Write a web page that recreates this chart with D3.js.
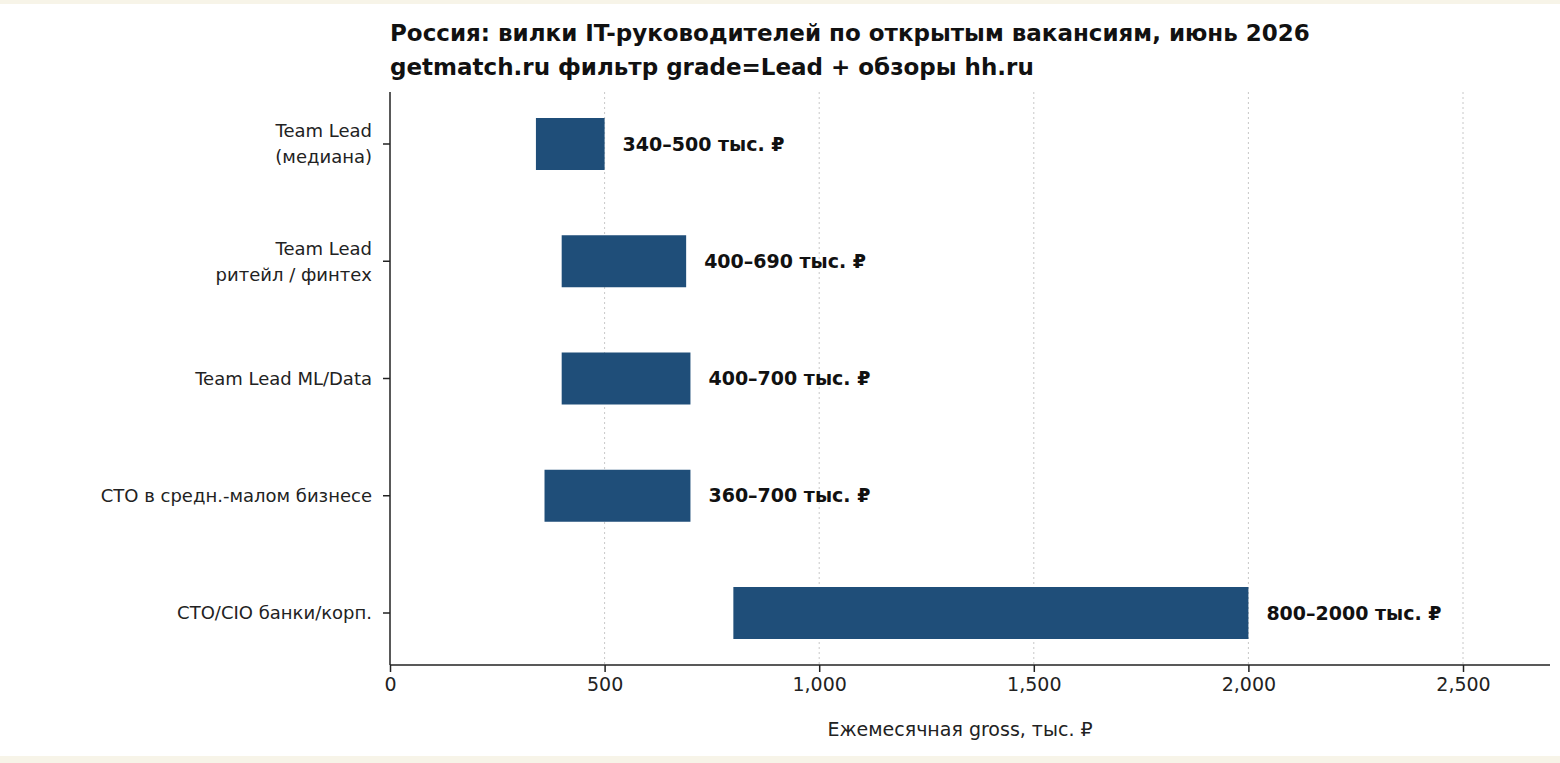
<!DOCTYPE html>
<html>
<head>
<meta charset="utf-8">
<script src="https://cdn.jsdelivr.net/npm/d3@7"></script>
<style>
  body { margin: 0; background: #fff; }
  text { font-family: "DejaVu Sans", sans-serif; }
</style>
</head>
<body>
<svg id="chart" width="1560" height="763"></svg>
<script>
const categories = ["Team Lead\n(медиана)", "Team Lead\nритейл / финтех", "Team Lead ML/Data",
                    "CTO в средн.-малом бизнесе", "CTO/CIO банки/корп."];
const lows = [340, 400, 400, 360, 800];
const highs = [500, 690, 700, 700, 2000];
const xTicks = [0, 500, 1000, 1500, 2000, 2500];

const svg = d3.select("#chart");
// faint cream frame
svg.append("rect").attr("width", 1560).attr("height", 763).attr("fill", "#f7f4e8");
svg.append("rect").attr("x", 0).attr("y", 4).attr("width", 1560).attr("height", 752).attr("fill", "#fff");

const plotL = 390, plotR = 1550, plotT = 92, plotB = 665;
const x = d3.scaleLinear().domain([0, 2700]).range([plotL, plotL + 2700 * (1463 - 390) / 2500]);
const y = d3.scaleLinear().domain([0, 4]).range([144, 613]);
const barH = 52;

// grid
svg.append("g").selectAll("line").data(xTicks.slice(1)).join("line")
    .attr("x1", d => x(d)).attr("x2", d => x(d))
    .attr("y1", plotT).attr("y2", plotB)
    .attr("stroke", "#c8c8c8").attr("stroke-width", 1).attr("stroke-dasharray", "2,3");

// bars
svg.append("g").selectAll("rect").data(categories).join("rect")
    .attr("x", (d, i) => x(lows[i]))
    .attr("width", (d, i) => x(highs[i]) - x(lows[i]))
    .attr("y", (d, i) => y(i) - barH / 2)
    .attr("height", barH)
    .attr("fill", "#1f4e79");

// value labels
svg.append("g").selectAll("text").data(categories).join("text")
    .attr("x", (d, i) => x(highs[i]) + 18)
    .attr("y", (d, i) => y(i))
    .attr("dy", "0.35em")
    .attr("font-size", 19).attr("font-weight", "bold").attr("fill", "#111")
    .text((d, i) => `${lows[i]}–${highs[i]} тыс. ₽`);

// axes
const xAxis = svg.append("g").attr("transform", `translate(0,${plotB})`)
    .call(d3.axisBottom(x).tickValues(xTicks).tickSize(7).tickPadding(6));
xAxis.select(".domain").attr("d", `M${plotL},0H${plotR}`).attr("stroke", "#222").attr("stroke-width", 1.5);
xAxis.selectAll(".tick line").attr("stroke", "#222").attr("stroke-width", 1.5);
xAxis.selectAll("text").attr("font-size", 19).attr("fill", "#222")
    .style("font-family", "DejaVu Sans, sans-serif");

svg.append("line").attr("x1", plotL).attr("x2", plotL).attr("y1", plotT).attr("y2", plotB)
    .attr("stroke", "#222").attr("stroke-width", 1.5);

const yTicks = svg.append("g").selectAll("g").data(categories).join("g")
    .attr("transform", (d, i) => `translate(${plotL},${y(i)})`);
yTicks.append("line").attr("x1", -7).attr("x2", 0).attr("stroke", "#222").attr("stroke-width", 1.5);
yTicks.append("text")
    .attr("text-anchor", "end").attr("font-size", 18).attr("fill", "#222")
    .each(function(d) {
        const lines = d.split("\n");
        const t = d3.select(this);
        lines.forEach((l, k) => {
            t.append("tspan").attr("x", -18)
                .attr("y", (k - (lines.length - 1) / 2) * 26)
                .attr("dy", "0.35em").text(l);
        });
    });

// axis label
svg.append("text").attr("x", (plotL + plotR) / 2 - 10).attr("y", 736)
    .attr("text-anchor", "middle").attr("font-size", 19).attr("fill", "#222")
    .text("Ежемесячная gross, тыс. ₽");

// title
const title = svg.append("text").attr("x", 390).attr("font-size", 23).attr("font-weight", "bold").attr("fill", "#111");
title.append("tspan").attr("x", 390).attr("y", 41).text("Россия: вилки IT-руководителей по открытым вакансиям, июнь 2026");
title.append("tspan").attr("x", 390).attr("y", 75).text("getmatch.ru фильтр grade=Lead + обзоры hh.ru");
</script>
</body>
</html>
